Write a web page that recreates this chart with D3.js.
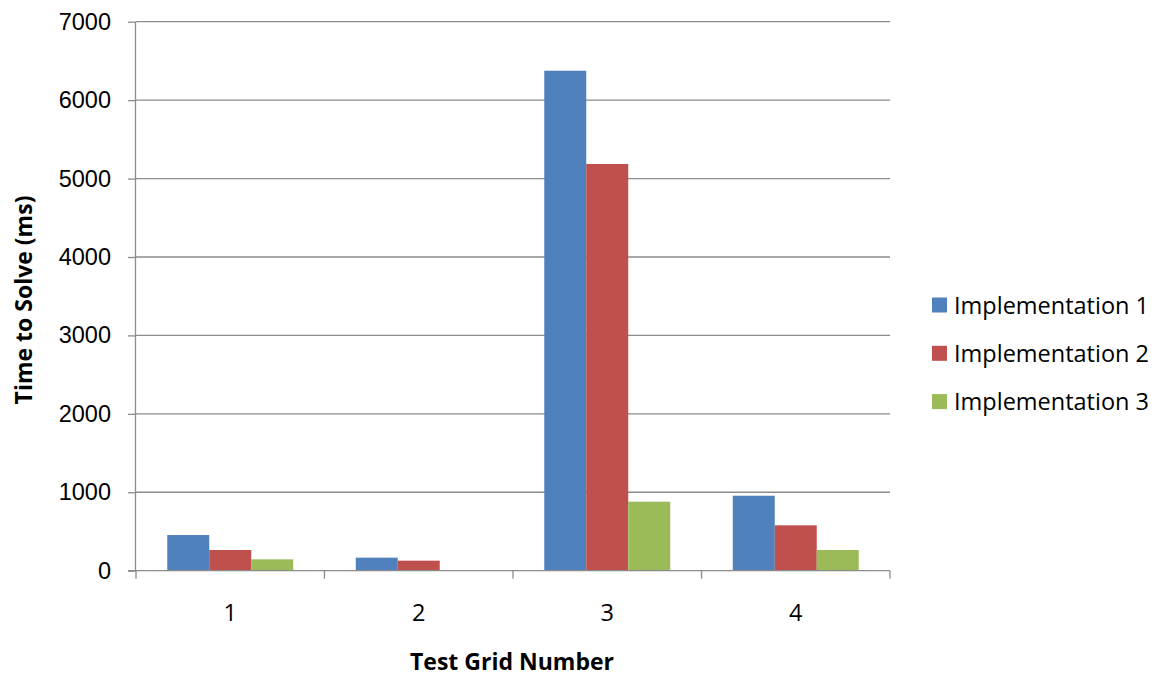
<!DOCTYPE html>
<html>
<head>
<meta charset="utf-8">
<script src="https://cdn.jsdelivr.net/npm/d3@7"></script>
<style>
  html, body { margin: 0; padding: 0; background: #fff; }
  svg { display: block; font-family: "Open Sans", "Noto Sans", sans-serif; }
</style>
</head>
<body>
<svg id="chart" width="1156" height="677"></svg>
<script>
// Solve times (ms) per test grid for each implementation
const categories = ["1", "2", "3", "4"];
const seriesNames = ["Implementation 1", "Implementation 2", "Implementation 3"];
const impl1 = [455, 166, 6375, 956];
const impl2 = [264, 128, 5186, 579];
const impl3 = [145, 0, 880, 264];
const yTicks = [0, 1000, 2000, 3000, 4000, 5000, 6000, 7000];
const colors = ["#4F81BD", "#C0504D", "#9BBB59"];

const seriesValues = [impl1, impl2, impl3];
const fontSize = 23.5;
const axisGray = "#8C8C8C";

const svg = d3.select("#chart");
const margin = { left: 136, right: 266, top: 21.7, bottom: 106.3 };
const width = 1156 - margin.left - margin.right;
const height = 677 - margin.top - margin.bottom;

const g = svg.append("g").attr("transform", `translate(${margin.left},${margin.top})`);

const x0 = d3.scaleBand().domain(categories).range([0, width]).paddingInner(0).paddingOuter(0);
const x1 = d3.scaleBand().domain(seriesNames).range([0, x0.bandwidth()]).paddingInner(0).paddingOuter(0.745);
const y = d3.scaleLinear().domain([0, 7000]).range([height, 0]);

// horizontal gridlines
g.append("g")
  .selectAll("line")
  .data(yTicks.filter(t => t > 0))
  .join("line")
  .attr("x1", 0).attr("x2", width)
  .attr("y1", d => y(d)).attr("y2", d => y(d))
  .attr("stroke", axisGray).attr("stroke-width", 1.3);

// bars
const groups = g.append("g")
  .selectAll("g")
  .data(categories)
  .join("g")
  .attr("transform", d => `translate(${x0(d)},0)`);

groups.selectAll("rect")
  .data((c, i) => seriesNames.map((s, j) => ({ s, v: seriesValues[j][i], j })))
  .join("rect")
  .attr("x", d => x1(d.s))
  .attr("width", x1.bandwidth())
  .attr("y", d => y(d.v))
  .attr("height", d => height - y(d.v))
  .attr("fill", d => colors[d.j]);

// y axis
const yAxis = g.append("g")
  .call(d3.axisLeft(y).tickValues(yTicks).tickSize(8).tickPadding(17).tickFormat(d3.format("d")));
yAxis.select(".domain").attr("stroke", axisGray).attr("stroke-width", 1.3).attr("d", `M-0.5,${height}V0`);
yAxis.selectAll(".tick line").attr("stroke", axisGray).attr("stroke-width", 1.3);
yAxis.selectAll(".tick text").attr("font-size", fontSize).attr("fill", "#000");

// x axis: ticks at category boundaries
const xAxis = g.append("g").attr("transform", `translate(0,${height})`);
xAxis.append("line")
  .attr("x1", -8).attr("x2", width)
  .attr("y1", 0).attr("y2", 0)
  .attr("stroke", axisGray).attr("stroke-width", 1.3);
const bounds = categories.map(c => x0(c)).concat([width]);
xAxis.selectAll("line.tk")
  .data(bounds)
  .join("line").attr("class", "tk")
  .attr("x1", d => d).attr("x2", d => d)
  .attr("y1", 0).attr("y2", 8)
  .attr("stroke", axisGray).attr("stroke-width", 1.3);
xAxis.selectAll("text")
  .data(categories)
  .join("text")
  .attr("x", d => x0(d) + x0.bandwidth() / 2)
  .attr("y", 50)
  .attr("text-anchor", "middle")
  .attr("font-size", fontSize)
  .attr("fill", "#000")
  .text(d => d);

// axis titles
svg.append("text")
  .attr("x", 512)
  .attr("y", 670)
  .attr("text-anchor", "middle")
  .attr("font-size", 23)
  .attr("font-weight", "bold")
  .text("Test Grid Number");

svg.append("text")
  .attr("transform", "translate(32,300) rotate(-90)")
  .attr("text-anchor", "middle")
  .attr("font-size", 23)
  .attr("font-weight", "bold")
  .text("Time to Solve (ms)");

// legend
const legend = svg.append("g").attr("transform", "translate(932,305)");
const item = legend.selectAll("g")
  .data(seriesNames)
  .join("g")
  .attr("transform", (d, i) => `translate(0,${i * 48.3})`);
item.append("rect")
  .attr("x", 0).attr("y", -7.5)
  .attr("width", 15).attr("height", 15)
  .attr("fill", (d, i) => colors[i]);
item.append("text")
  .attr("x", 22).attr("y", 8.5)
  .attr("font-size", fontSize)
  .attr("fill", "#000")
  .text(d => d);
</script>
</body>
</html>
